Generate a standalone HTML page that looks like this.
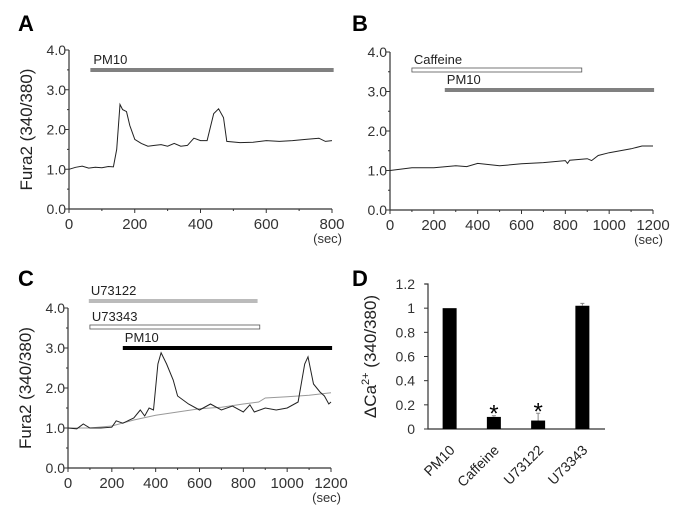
<!DOCTYPE html>
<html><head><meta charset="utf-8"><style>
body{margin:0;background:#fff;}
svg{display:block;font-family:"Liberation Sans","DejaVu Sans",sans-serif;}
</style></head><body>
<svg id="fig" width="700" height="524" viewBox="0 0 700 524" xmlns="http://www.w3.org/2000/svg">
<g font-weight="bold" font-size="22" fill="#000">
<text x="18" y="31">A</text>
<text x="352" y="31">B</text>
<text x="18" y="286">C</text>
<text x="352" y="286">D</text>
</g>
</svg>
<script>
const aTime=[0,20,40,60,80,100,120,135,145,155,163,175,185,200,220,240,260,280,300,320,340,360,380,400,420,440,455,470,480,520,560,600,640,680,720,760,780,800];
const aRatio=[1.0,1.05,1.08,1.03,1.05,1.04,1.07,1.06,1.5,2.63,2.5,2.45,2.1,1.75,1.65,1.58,1.6,1.62,1.58,1.65,1.58,1.6,1.78,1.72,1.72,2.4,2.52,2.3,1.7,1.67,1.68,1.72,1.7,1.72,1.75,1.78,1.7,1.72];
const bTime=[0,100,200,300,350,400,500,600,700,800,810,820,900,920,950,1000,1100,1150,1200];
const bRatio=[1.0,1.07,1.07,1.12,1.1,1.18,1.12,1.17,1.2,1.25,1.18,1.26,1.3,1.25,1.38,1.45,1.55,1.62,1.62];
const cTime=[0,40,70,100,150,200,220,250,300,330,350,370,390,410,425,450,480,500,550,600,650,700,750,800,830,850,900,950,1000,1050,1080,1095,1120,1150,1170,1190,1200];
const cRatio=[1.0,0.98,1.1,1.0,1.0,1.02,1.18,1.12,1.25,1.45,1.3,1.5,1.45,2.6,2.88,2.6,2.2,1.8,1.6,1.45,1.6,1.45,1.55,1.4,1.58,1.4,1.5,1.45,1.5,1.65,2.6,2.78,2.1,1.9,1.8,1.6,1.65];
const cCtrlTime=[0,100,200,300,400,500,600,700,800,870,900,1000,1100,1200];
const cCtrlRatio=[1.0,1.0,1.05,1.2,1.32,1.4,1.48,1.52,1.6,1.65,1.75,1.78,1.82,1.88];
const yTicks=["0.0","1.0","2.0","3.0","4.0"];
const dCategories=["PM10","Caffeine","U73122","U73343"];
const dValues=[1.0,0.1,0.07,1.02];
const dErrors=[0,0.01,0.06,0.02];
const dSignif=[false,true,true,false];
const dTicks=["0","0.2","0.4","0.6","0.8","1","1.2"];

const NS="http://www.w3.org/2000/svg";
const svg=document.getElementById('fig');
function el(tag,attrs,parent,text){const e=document.createElementNS(NS,tag);for(const k in attrs)e.setAttribute(k,attrs[k]);if(text!==undefined)e.textContent=text;(parent||svg).appendChild(e);return e;}

function trace(p){
  const g=el('g',{});
  
  
  const sx=t=>p.x0+(t/p.tmax)*(p.x1-p.x0);
  const sy=v=>p.y0-(v/4)*(p.y0-p.y1);
  const ax=el('path',{d:`M${p.x0},${p.y1} V${p.y0} H${p.x1}`,stroke:'#333',fill:'none','stroke-width':1.2},g);
  
  
  for(let i=0;i<=8;i++){const v=i*0.5;el('line',{x1:p.x0-(i%2?2:4),x2:p.x0,y1:sy(v),y2:sy(v),stroke:'#333'},g);}
  yTicks.forEach((lab,i)=>{const t=el('text',{x:p.x0-3,y:sy(+lab)+5,'text-anchor':'end','font-size':14,fill:'#333'},g,lab);
    
    });
  const step=p.tmax/(p.nMajor*2);
  for(let i=0;i<=p.nMajor*2;i++){el('line',{x1:sx(i*step),x2:sx(i*step),y1:p.y0,y2:p.y0+(i%2?2:4),stroke:'#333'},g);}
  for(let i=0;i<=p.nMajor;i++){const t=el('text',{x:sx(i*step*2),y:p.y0+20,'text-anchor':'middle','font-size':15,fill:'#333'},g,String(i*step*2));
    
    }
  const u=el('text',{x:p.x1+10,y:p.y0+34,'text-anchor':'end','font-size':13,fill:'#333'},g,'(sec)');
  
  
  if(p.ytitle){const yt=el('text',{transform:`translate(${p.x0-37},${(p.y0+p.y1)/2}) rotate(-90)`,'text-anchor':'middle','font-size':17,fill:'#222'},g,'Fura2 (340/380)');
    
    }
  p.series.forEach(s=>{const d=s.t.map((t,i)=>(i?'L':'M')+sx(t).toFixed(1)+','+sy(s.v[i]).toFixed(1)).join(' ');
    const l=el('path',{d,stroke:s.color,fill:'none','stroke-width':1},g);
    
    });
  p.bars.forEach(b=>{const r=el('rect',{x:sx(b.t0),y:b.y-2,width:sx(b.t1)-sx(b.t0),height:4,fill:b.fill,stroke:b.stroke||'none','stroke-width':0.8},g);
    
    
    const t=el('text',{x:sx(b.t0)+b.dx,y:b.y-6,'font-size':13,fill:'#222'},g,b.label);
    
    });
}
trace({name:'panel-a',x0:69,x1:332,y0:209,y1:50,tmax:800,nMajor:4,ytitle:true,
  series:[{t:aTime,v:aRatio,color:'#222',name:'trace-line'}],
  bars:[{t0:65,t1:805,y:70,fill:'#808080',label:'PM10',dx:3}]});
trace({name:'panel-b',x0:390,x1:653,y0:210,y1:52,tmax:1200,nMajor:6,ytitle:false,
  series:[{t:bTime,v:bRatio,color:'#222',name:'trace-line'}],
  bars:[{t0:100,t1:875,y:70,fill:'#fff',stroke:'#555',label:'Caffeine',dx:2},{t0:250,t1:1205,y:90,fill:'#808080',label:'PM10',dx:2}]});
trace({name:'panel-c',x0:68,x1:331,y0:468,y1:308,tmax:1200,nMajor:6,ytitle:true,
  series:[{t:cCtrlTime,v:cCtrlRatio,color:'#999',name:'control-trace'},{t:cTime,v:cRatio,color:'#222',name:'trace-line'}],
  bars:[{t0:95,t1:865,y:301,fill:'#bbb',label:'U73122',dx:2},{t0:100,t1:875,y:327,fill:'#fff',stroke:'#555',label:'U73343',dx:2},{t0:250,t1:1205,y:348,fill:'#000',label:'PM10',dx:2}]});

// panel D
(function(){
  const x0=428,x1=605,y0=429,y1=284;
  const sy=v=>y0-(v/1.2)*(y0-y1);
  const bw=(x1-x0)/dCategories.length;
  const g=el('g',{});
  
  
  const ax=el('path',{d:`M${x0-3},${y1} H${x0} V${y0} H${x1}`,stroke:'#333',fill:'none','stroke-width':1.2},g);
  
  
  dTicks.forEach(lab=>{const y=sy(+lab);el('line',{x1:x0-4,x2:x0,y1:y,y2:y,stroke:'#333'},g);
    const t=el('text',{x:x0-13,y:y+5,'text-anchor':'end','font-size':14,fill:'#333'},g,lab);
    
    });
  const yt=el('text',{transform:`translate(${x0-52},${(y0+y1)/2}) rotate(-90)`,'text-anchor':'middle','font-size':17,fill:'#222'},g);
  
  
  el('tspan',{},yt,'ΔCa');el('tspan',{dy:-7,'font-size':11},yt,'2+');el('tspan',{dy:7},yt,' (340/380)');
  dCategories.forEach((c,i)=>{
    const cx=x0+bw*(i+0.5)-0.5;
    const r=el('rect',{x:cx-7,y:sy(dValues[i]),width:14,height:y0-sy(dValues[i]),fill:'#000'},g);
    
    
    if(dErrors[i]>0){const e=el('path',{d:`M${cx},${sy(dValues[i])} V${sy(dValues[i]+dErrors[i])} M${cx-2},${sy(dValues[i]+dErrors[i])} H${cx+2}`,stroke:'#888','stroke-width':1},g);
      
      }
    if(dSignif[i]){const s=el('text',{x:cx,y:sy(dValues[i]+dErrors[i])+6,'text-anchor':'middle','font-size':24,fill:'#000'},g,'*');
      
      }
    const t=el('text',{transform:`translate(${cx+6},${y0+22}) rotate(-45)`,'text-anchor':'end','font-size':14,fill:'#222'},g,c);
    
    
  });
})();
</script>
</body></html>
